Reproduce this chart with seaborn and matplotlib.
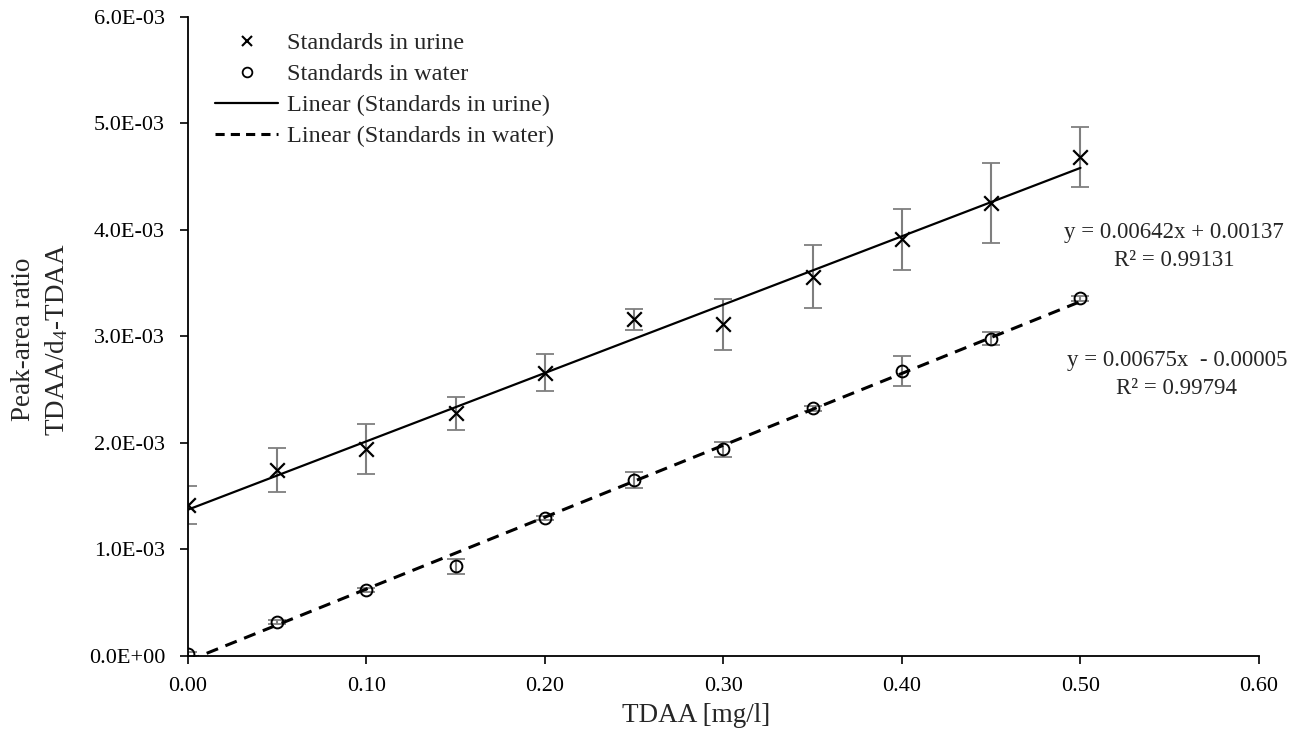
import numpy as np
import pandas as pd
import matplotlib
matplotlib.use("Agg")
import matplotlib.pyplot as plt
import seaborn as sns
from matplotlib.lines import Line2D
from matplotlib.ticker import FuncFormatter, MultipleLocator

# DATA
conc = [0.00, 0.05, 0.10, 0.15, 0.20, 0.25, 0.30, 0.35, 0.40, 0.45, 0.50]
urine = [1.413e-3, 1.742e-3, 1.936e-3, 2.274e-3, 2.655e-3, 3.157e-3, 3.113e-3,
         3.557e-3, 3.908e-3, 4.246e-3, 4.684e-3]
urine_err = [0.176e-3, 0.21e-3, 0.235e-3, 0.157e-3, 0.174e-3, 0.095e-3, 0.24e-3,
             0.297e-3, 0.29e-3, 0.376e-3, 0.279e-3]
water = [0.014e-3, 0.312e-3, 0.615e-3, 0.840e-3, 1.294e-3, 1.648e-3, 1.936e-3,
         2.321e-3, 2.674e-3, 2.975e-3, 3.354e-3]
water_err = [0.02e-3, 0.02e-3, 0.02e-3, 0.07e-3, 0.02e-3, 0.075e-3, 0.07e-3,
             0.02e-3, 0.14e-3, 0.063e-3, 0.02e-3]

# trend lines as given in the chart
urine_slope, urine_icpt, urine_r2 = 0.00642, 0.00137, 0.99131
water_slope, water_icpt, water_r2 = 0.00675, -0.00005, 0.99794

df = pd.DataFrame({"conc": conc, "urine": urine, "urine_err": urine_err,
                   "water": water, "water_err": water_err})
df["urine_fit"] = urine_slope * df["conc"] + urine_icpt
df["water_fit"] = water_slope * df["conc"] + water_icpt

# STYLE
sns.set_style("ticks")
plt.rcParams["font.family"] = ["Liberation Serif", "DejaVu Serif"]
plt.rcParams["mathtext.fontset"] = "custom"
plt.rcParams["mathtext.rm"] = "Liberation Serif"
plt.rcParams["mathtext.it"] = "Liberation Serif:italic"

fig = plt.figure(figsize=(12.99, 7.45), dpi=100)
ax = fig.add_axes([0.1447, 0.1201, 0.9692 - 0.1447, 0.9776 - 0.1201])

gray = "#7f7f7f"
# error bars
ax.errorbar(df["conc"], df["urine"], yerr=df["urine_err"], fmt="none",
            ecolor=gray, elinewidth=1.5, capsize=6.5, capthick=1.3, zorder=2)
ax.errorbar(df["conc"], df["water"], yerr=df["water_err"], fmt="none",
            ecolor=gray, elinewidth=1.5, capsize=6.5, capthick=1.3, zorder=2)

# trend lines
sns.lineplot(data=df, x="conc", y="urine_fit", ax=ax, color="black", lw=1.6, zorder=3)
sns.lineplot(data=df, x="conc", y="water_fit", ax=ax, color="black", lw=2.2,
             linestyle=(0, (4, 2.6)), zorder=3)

# markers
sns.scatterplot(data=df, x="conc", y="urine", ax=ax, marker="x", s=110,
                color="black", linewidth=1.6, zorder=4)
ax.plot(df["conc"], df["water"], ls="none", marker="o", ms=8.5, mfc="none",
        mec="black", mew=1.4, zorder=4)

# AXES
ax.set_xlim(0, 0.60)
ax.set_ylim(0, 0.006)
ax.xaxis.set_major_locator(MultipleLocator(0.10))
ax.yaxis.set_major_locator(MultipleLocator(0.001))
ax.xaxis.set_major_formatter(FuncFormatter(lambda v, p: f"{v:.2f}"))
ax.yaxis.set_major_formatter(FuncFormatter(lambda v, p: f"{v:.1E}"))
ax.tick_params(axis="both", direction="out", length=5.5, width=1.2,
               labelsize=16, color="black", labelcolor="black")
ax.tick_params(axis="x", pad=10)
ax.tick_params(axis="y", pad=11)
for s in ["top", "right"]:
    ax.spines[s].set_visible(False)
for s in ["left", "bottom"]:
    ax.spines[s].set_linewidth(1.3)
    ax.spines[s].set_color("black")

ax.set_xlabel("TDAA [mg/l]", fontsize=19.5)
ax.xaxis.set_label_coords(0.474, -0.075)
ax.set_ylabel("Peak-area ratio\nTDAA/d$_{\\mathrm{4}}$-TDAA", fontsize=19.5,
              linespacing=1.35)
ax.yaxis.label.set_va("center")
ax.yaxis.set_label_coords(-0.138, 0.495)

# equations
ax.text(0.5524, 0.003845, f"y = {urine_slope:.5f}x + {urine_icpt:.5f}\nR² = {urine_r2:.5f}",
        ha="center", va="center", multialignment="center", fontsize=16.5, linespacing=1.45)
ax.text(0.5540, 0.002643, f"y = {water_slope:.5f}x  - {abs(water_icpt):.5f}\nR² = {water_r2:.5f}",
        ha="center", va="center", multialignment="center", fontsize=16.5, linespacing=1.45)

# LEGEND
handles = [
    Line2D([], [], ls="none", marker="x", ms=7, mew=1.5, color="black"),
    Line2D([], [], ls="none", marker="o", ms=7, mew=1.3, mfc="none", mec="black"),
    Line2D([], [], color="black", lw=1.6),
    Line2D([], [], color="black", lw=2.2, ls=(0, (3, 2))),
]
labels = ["Standards in urine", "Standards in water",
          "Linear (Standards in urine)", "Linear (Standards in water)"]
ax.legend(handles, labels, loc="upper left", bbox_to_anchor=(0.0252, 0.976),
          frameon=False, fontsize=17.5, handlelength=2.6, handletextpad=0.36,
          labelspacing=0.37, borderpad=0, borderaxespad=0)

fig.savefig("out.png", dpi=100)
